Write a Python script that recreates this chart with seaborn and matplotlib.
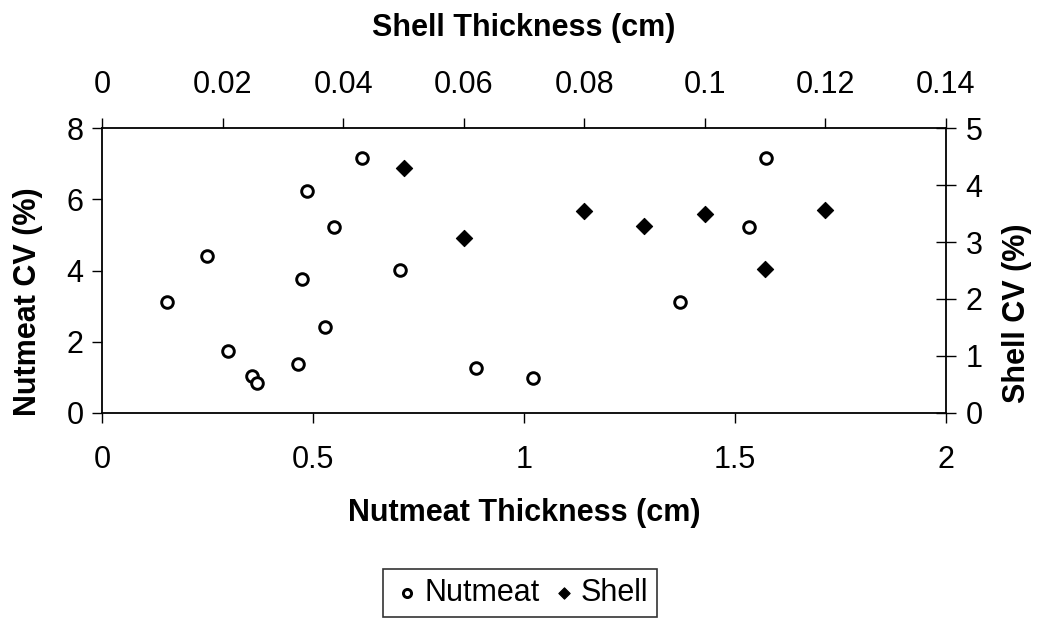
import matplotlib
matplotlib.use("Agg")
import matplotlib.pyplot as plt
import seaborn as sns
import pandas as pd

# Nutmeat measurements (bottom x axis, left y axis)
nutmeat_thickness = [0.154, 0.248, 0.299, 0.356, 0.366, 0.465, 0.474, 0.485, 0.529,
                     0.549, 0.617, 0.706, 0.885, 1.021, 1.370, 1.533, 1.573]
nutmeat_cv = [3.12, 4.41, 1.73, 1.04, 0.84, 1.37, 3.77, 6.23, 2.42,
              5.23, 7.16, 4.01, 1.25, 0.97, 3.12, 5.23, 7.16]

# Shell measurements (top x axis, right y axis)
shell_thickness = [0.05, 0.06, 0.08, 0.09, 0.10, 0.11, 0.12]
shell_cv = [4.31, 3.07, 3.55, 3.29, 3.50, 2.52, 3.57]

bottom_ticks = [0, 0.5, 1, 1.5, 2]
bottom_tick_labels = ["0", "0.5", "1", "1.5", "2"]
top_ticks = [0, 0.02, 0.04, 0.06, 0.08, 0.10, 0.12, 0.14]
top_tick_labels = ["0", "0.02", "0.04", "0.06", "0.08", "0.1", "0.12", "0.14"]
left_ticks = [0, 2, 4, 6, 8]
right_ticks = [0, 1, 2, 3, 4, 5]

nut_df = pd.DataFrame({"thickness": nutmeat_thickness, "cv": nutmeat_cv})
shell_df = pd.DataFrame({"thickness": shell_thickness, "cv": shell_cv})

sns.set_theme(style="white")
plt.rcParams["font.family"] = ["Liberation Sans", "DejaVu Sans"]
plt.rcParams.update({
    "text.color": "black",
    "axes.labelcolor": "black",
    "xtick.color": "black",
    "ytick.color": "black",
})

FS = 22

W, H = 1038, 618
fig = plt.figure(figsize=(W / 100, H / 100), dpi=100)
fig.patch.set_facecolor("white")

left, right, top, bottom = 102.3, 945.7, 128.3, 412.7
pos = [left / W, 1 - bottom / H, (right - left) / W, (bottom - top) / H]
ax = fig.add_axes(pos)
ax2 = fig.add_axes(pos, frameon=False)

sns.scatterplot(data=nut_df, x="thickness", y="cv", ax=ax, marker="o",
                s=70, facecolor="white", edgecolor="black", linewidth=2.1,
                label="Nutmeat", legend=False, zorder=3)
sns.scatterplot(data=shell_df, x="thickness", y="cv", ax=ax2, marker="D",
                s=68, color="black", edgecolor="black", linewidth=0.8,
                label="Shell", legend=False, zorder=3)

# Primary axes: nutmeat
ax.set_xlim(0, 2)
ax.set_ylim(0, 8)
ax.set_xticks(bottom_ticks)
ax.set_xticklabels(bottom_tick_labels)
ax.set_yticks(left_ticks)
ax.tick_params(axis="x", which="both", direction="out", length=7.5, width=1,
               color="black", labelsize=FS, pad=16, bottom=True, top=False)
ax.tick_params(axis="y", which="both", direction="out", length=7.5, width=1,
               color="black", labelsize=FS, pad=6, left=True, right=False)
ax.set_xlabel("Nutmeat Thickness (cm)", fontsize=FS, fontweight="bold")
ax.set_ylabel("Nutmeat CV (%)", fontsize=FS, fontweight="bold")
ax.xaxis.set_label_coords(0.5, -0.3527)
ax.yaxis.set_label_coords(-0.088, 0.389)
ax.xaxis.label.set_va("center")
ax.yaxis.label.set_va("center")
for sp in ax.spines.values():
    sp.set_color("black")
    sp.set_linewidth(1.3)
    sp.set_visible(True)
ax.grid(False)

# Secondary axes: shell
ax2.set_xlim(0, 0.14)
ax2.set_ylim(0, 5)
ax2.set_xticks(top_ticks)
ax2.set_xticklabels(top_tick_labels)
ax2.set_yticks(right_ticks)
ax2.xaxis.tick_top()
ax2.yaxis.tick_right()
ax2.xaxis.set_label_position("top")
ax2.yaxis.set_label_position("right")
ax2.tick_params(axis="x", which="both", direction="out", length=7.5, width=1,
                color="black", labelsize=FS, pad=13, top=True, bottom=False)
ax2.tick_params(axis="y", which="both", direction="inout", length=14.5, width=1,
                color="black", labelsize=FS, pad=7, right=True, left=False)
ax2.set_xlabel("Shell Thickness (cm)", fontsize=FS, fontweight="bold")
ax2.set_ylabel("Shell CV (%)", fontsize=FS, fontweight="bold", rotation=90)
ax2.xaxis.set_label_coords(0.5, 1.3527)
ax2.yaxis.set_label_coords(1.0845, 0.35)
ax2.xaxis.label.set_va("center")
ax2.yaxis.label.set_va("center")
ax2.grid(False)
ax2.patch.set_visible(False)

# Combined legend below the plot
h1, l1 = ax.get_legend_handles_labels()
h2, l2 = ax2.get_legend_handles_labels()
leg = fig.legend(h1 + h2, l1 + l2, loc="upper center",
                 bbox_to_anchor=(520 / W, 1 - 569 / H), ncol=2, fontsize=FS,
                 frameon=True, fancybox=False, edgecolor="black",
                 handletextpad=0.05, columnspacing=0.3, borderpad=0.3,
                 borderaxespad=0, handlelength=1.0, markerscale=0.7)
leg.get_frame().set_linewidth(1.2)

fig.savefig("out.png", dpi=100, facecolor="white")
